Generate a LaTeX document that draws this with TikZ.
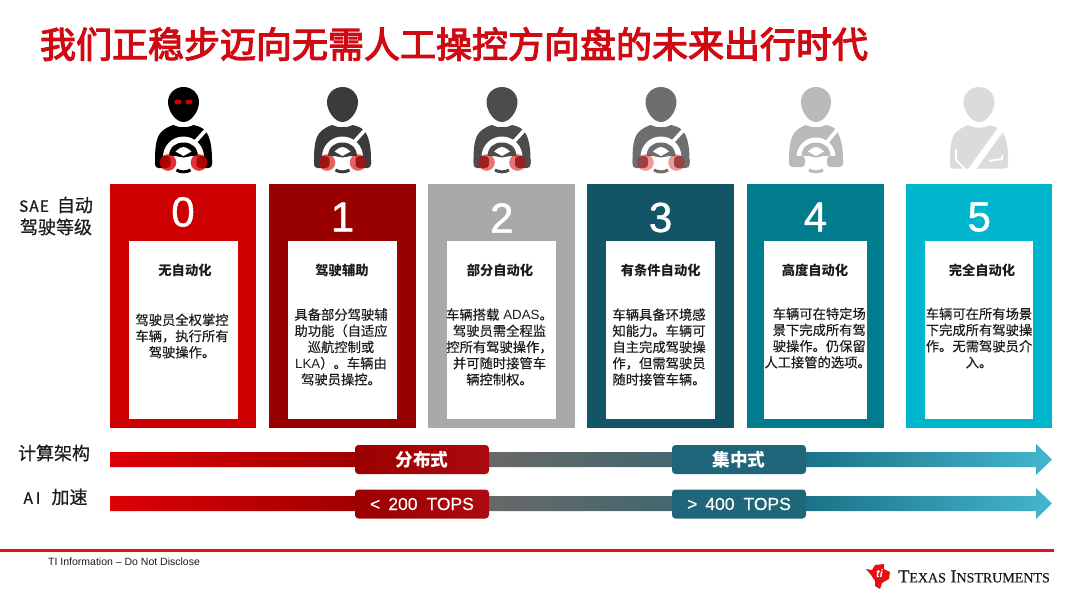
\documentclass[tikz,border=0pt]{standalone}
\usepackage{fontspec}
\setmainfont{Noto Sans CJK SC}
\newfontfamily\lat{Liberation Sans}
\newfontfamily\latmid[FakeBold=0.35]{Liberation Sans}
\newfontfamily\latheavy[FakeBold=1.1]{Liberation Sans}
\newfontfamily\latserif[FakeBold=0.5]{Liberation Serif}
\newfontfamily\cjkbody[FakeBold=0.25]{Noto Sans CJK SC}
\newfontfamily\cjkside[FakeBold=0.6]{Noto Sans CJK SC}
\newfontfamily\cjktitle[FakeBold=3.2]{Noto Sans CJK SC}
\definecolor{titlered}{HTML}{D00A12}
\definecolor{c0}{HTML}{CC0000}
\definecolor{c1}{HTML}{990000}
\definecolor{c2}{HTML}{A9A9A9}
\definecolor{c3}{HTML}{115566}
\definecolor{c4}{HTML}{007C8C}
\definecolor{c5}{HTML}{00B6CC}
\definecolor{ink}{HTML}{1C1C1C}
\definecolor{g0}{HTML}{DC0006}
\definecolor{g1}{HTML}{A00000}
\definecolor{g2}{HTML}{686868}
\definecolor{g3}{HTML}{43686F}
\definecolor{g4}{HTML}{1B7388}
\definecolor{g5}{HTML}{45B6CE}
\definecolor{pill1}{HTML}{9C0000}
\definecolor{pill2}{HTML}{AC0A10}
\definecolor{pill3}{HTML}{20667A}
\definecolor{footred}{HTML}{E60F14}
\pgfdeclarehorizontalshading{flowbar}{100bp}{
  color(0bp)=(g0);
  color(25bp)=(g0);
  color(38bp)=(g1);
  color(45.2bp)=(g2);
  color(54.8bp)=(g3);
  color(62bp)=(g4);
  color(75bp)=(g5);
  color(100bp)=(g5)}
\tikzset{
  x=1pt,y=-1pt,
  cardbox/.style={rectangle,inner sep=0pt,outer sep=0pt},
  cardpanel/.style={rectangle,fill=white,inner sep=0pt,outer sep=0pt,minimum height=178pt},
  digitlabel/.style={text=white,inner sep=0pt,font=\latheavy\fontsize{42}{44}\selectfont},
  cardtitle/.style={text=ink,inner sep=0pt,font=\bfseries\fontsize{13.3}{16}\selectfont},
  cardbody/.style={text=ink,inner sep=0pt,align=center,font=\cjkbody\fontsize{13.3}{16.2}\selectfont},
  sidelabel/.style={text=ink,inner sep=0pt,align=center,font=\cjkside\fontsize{18}{22}\selectfont},
  pillbox/.style={rectangle,rounded corners=3.5pt,inner sep=0pt,outer sep=0pt,minimum width=134pt,minimum height=29pt,text=white},
  redpill/.style={pillbox,left color=pill1,right color=pill2},
  tealpill/.style={pillbox,fill=pill3},
}
\newcommand{\leveltile}[8]{%
  % name, centre x, width, panel centre x, panel width, colour, digit, digit y
  \node[cardbox,fill=#6,minimum width=#3pt,minimum height=244pt] (card#1) at (#2,306) {};
  \node[cardpanel,minimum width=#5pt] (panel#1) at (#4,330) {};
  \node[digitlabel] (digit#1) at (#2,#8) {#7};
}
\newcommand{\drivericon}[4]{%
  % x, colour, hand opacity, eyes
  \begin{scope}[shift={(#1,0)}]
    \fill[#2] (0,87) .. controls (9,87) and (15.5,94) .. (15.5,102) .. controls (15.5,111) and (8,122) .. (0,122) .. controls (-8,122) and (-15.5,111) .. (-15.5,102) .. controls (-15.5,94) and (-9,87) .. (0,87) -- cycle;
    \fill[#2] (-28.5,160) .. controls (-28.5,145) and (-27,135) .. (-20,130) .. controls (-16,127) and (-12,125.5) .. (-10,125) .. controls (-5,128) and (5,128) .. (10,125) .. controls (14,126) and (18,127) .. (21,130) .. controls (27,136) and (28.5,148) .. (28.5,160) -- (28.5,163) -- (-28.5,163) -- cycle;
    \draw[white,line width=3.6pt] (27,125) -- (7,147);
    \fill[white] (0,157) circle[radius=20.5];
    \fill[#2] (-14.5,156) .. controls (-14,147) and (-8,142.5) .. (0,142.5) .. controls (8,142.5) and (14,147) .. (14.5,156) -- (8,156) -- (0,157.5) -- (-8,156) -- cycle;
    \fill[white] (-8,151.5) .. controls (-4,148) and (-2,147) .. (0,147) .. controls (2,147) and (4,148) .. (8,151.5) .. controls (5,153) and (2,155) .. (0,156) .. controls (-2,155) and (-5,153) .. (-8,151.5) -- cycle;
    \fill[#2,rounded corners=3.5pt] (-28.5,156) rectangle (-13,168);
    \fill[#2,rounded corners=3.5pt] (13,156) rectangle (28.5,168);
    \draw[#2,line width=3pt] (-7,170) .. controls (-3,172.5) and (3,172.5) .. (7,170);
    #4
    \fill[red!85!black,opacity=#3] (-15.5,162.5) circle[radius=8.3];
    \fill[red!85!black,opacity=#3] (15.5,162.5) circle[radius=8.3];
  \end{scope}
}
\begin{document}
\begin{tikzpicture}
\useasboundingbox (0,0) rectangle (1080,608);
\fill[white] (0,0) rectangle (1080,608);

\node[text=titlered,inner sep=0pt,font=\cjktitle\fontsize{36}{40}\selectfont] (title) at (454,44) {我们正稳步迈向无需人工操控方向盘的未来出行时代};

% driver icons
\drivericon{183.5}{black}{0.8}{\fill[red!80!black] (-5.5,102) ellipse[x radius=3.8,y radius=2.5]; \fill[red!80!black] (5.5,102) ellipse[x radius=3.8,y radius=2.5];}
\drivericon{342.5}{black!77}{0.62}{}
\drivericon{502}{black!70}{0.55}{}
\drivericon{661}{black!57}{0.4}{}
\begin{scope}[shift={(816,0)}]
  \fill[black!27] (0,87) .. controls (9,87) and (15,94) .. (15,102) .. controls (15,111) and (8,122) .. (0,122) .. controls (-8,122) and (-15,111) .. (-15,102) .. controls (-15,94) and (-9,87) .. (0,87) -- cycle;
  \fill[black!27] (-27,160) .. controls (-27,145) and (-25,135) .. (-19,130) .. controls (-15,127) and (-12,125.5) .. (-10,125) .. controls (-5,128) and (5,128) .. (10,125) .. controls (14,126) and (18,127) .. (20,130) .. controls (25,136) and (27,148) .. (27,160) -- (27,163) -- (-27,163) -- cycle;
  \draw[white,line width=3.6pt] (25,125) -- (7,147);
  \fill[white] (0,157) circle[radius=19.5];
  \fill[black!27] (-14.5,156) .. controls (-14,147) and (-8,142.5) .. (0,142.5) .. controls (8,142.5) and (14,147) .. (14.5,156) -- (8,156) -- (0,157.5) -- (-8,156) -- cycle;
  \fill[white] (-8,151.5) .. controls (-4,148) and (-2,147) .. (0,147) .. controls (2,147) and (4,148) .. (8,151.5) .. controls (5,153) and (2,155) .. (0,156) .. controls (-2,155) and (-5,153) .. (-8,151.5) -- cycle;
  \fill[black!27,rounded corners=3.5pt] (-27,156) rectangle (-11,167);
  \fill[black!27,rounded corners=3.5pt] (11,156) rectangle (27,167);
  \draw[black!27,line width=3pt] (-7,170) .. controls (-3,172.5) and (3,172.5) .. (7,170);
\end{scope}
\begin{scope}[shift={(979,0)}]
  \fill[black!14] (0,87) .. controls (9,87) and (15.5,94) .. (15.5,102) .. controls (15.5,111) and (8,122) .. (0,122) .. controls (-8,122) and (-15.5,111) .. (-15.5,102) .. controls (-15.5,94) and (-9,87) .. (0,87) -- cycle;
  \fill[black!14,rounded corners=3pt] (-29,160) .. controls (-29,145) and (-27,135) .. (-20,130) .. controls (-16,127) and (-12,125.5) .. (-10,125) .. controls (-5,128) and (5,128) .. (10,125) .. controls (14,126) and (18,127) .. (21,130) .. controls (27,136) and (29,148) .. (29,160) -- (29,168.5) -- (-29,168.5) -- cycle;
  \draw[white,line width=6.5pt] (27,122) -- (-9,172);
  \draw[white,line width=2pt] (-23,149) -- (-23,160) -- (-12,171);
  \draw[white,line width=2pt] (23,155) -- (23,159) -- (10,161);
\end{scope}

% level cards
\leveltile{0}{183}{146.5}{183.5}{109}{c0}{0}{212}
\leveltile{1}{342.5}{146.5}{342.5}{109}{c1}{1}{217}
\leveltile{2}{501.7}{146.5}{501.7}{109}{c2}{2}{218}
\leveltile{3}{660.6}{146.5}{660.6}{109}{c3}{3}{217.5}
\leveltile{4}{815.5}{137.6}{815.5}{102.4}{c4}{4}{217}
\leveltile{5}{979.2}{146.3}{979.2}{108.3}{c5}{5}{217}

\node[cardtitle] (t0) at (185,270.7) {无自动化};
\node[cardtitle] (t1) at (342,270.7) {驾驶辅助};
\node[cardtitle] (t2) at (500,270.7) {部分自动化};
\node[cardtitle] (t3) at (660.7,270.7) {有条件自动化};
\node[cardtitle] (t4) at (815,270.7) {高度自动化};
\node[cardtitle] (t5) at (982,270.7) {完全自动化};

\node[cardbody] (b0) at (182,336) {驾驶员全权掌控\\车辆，执行所有\\驾驶操作。};
\node[cardbody] (b1) at (341,347) {具备部分驾驶辅\\助功能（自适应\\巡航控制或\\{\lat LKA}）。车辆由\\驾驶员操控。};
\node[cardbody] (b2) at (499.5,347) {车辆搭载\hspace{4pt}{\lat ADAS}。\\驾驶员需全程监\\控所有驾驶操作，\\并可随时接管车\\辆控制权。};
\node[cardbody] (b3) at (659,347) {车辆具备环境感\\知能力。车辆可\\自主完成驾驶操\\作，但需驾驶员\\随时接管车辆。};
\node[cardbody,align=right,anchor=east] (b4) at (866,338) {车辆可在特定场\\景下完成所有驾\\驶操作。仍保留\\人工接管的选项。\kern-5pt};
\node[cardbody] (b5) at (979,338) {车辆可在所有场景\\下完成所有驾驶操\\作。无需驾驶员介\\入。};

% side labels
\node[sidelabel] (sae) at (56,216) {{\fontsize{15.5}{22}\selectfont S\hspace{1pt}A\hspace{1pt}E}\hspace{8pt}自动\\驾驶等级};
\node[sidelabel] (arch) at (54,453) {计算架构};
\node[sidelabel] (ai) at (55.5,497) {{\fontsize{15.5}{22}\selectfont A\hspace{3pt}I}\hspace{11pt}加速};

% flow bars
\shade[shading=flowbar] (110,452) -- (1036,452) -- (1036,444) -- (1052,459.5) -- (1036,475) -- (1036,467) -- (110,467) -- cycle;
\shade[shading=flowbar] (110,496) -- (1036,496) -- (1036,488) -- (1052,503.5) -- (1036,519) -- (1036,511) -- (110,511) -- cycle;

\node[redpill,font=\bfseries\fontsize{17.7}{20}\selectfont] (dist) at (422,459.5) {分布式};
\node[tealpill,font=\bfseries\fontsize{17.7}{20}\selectfont] (cent) at (739,459.5) {集中式};
\node[redpill,font=\latmid\fontsize{17.5}{20}\selectfont] (low) at (422,504) {<\hspace{8pt}200\hspace{9pt}TOPS};
\node[tealpill,font=\latmid\fontsize{17.5}{20}\selectfont] (high) at (739,504) {>\hspace{8pt}400\hspace{9pt}TOPS};

% footer
\fill[footred] (0,548.6) rectangle (1054,551.6);
\node[anchor=west,inner sep=0pt,text=ink,font=\lat\fontsize{10.5}{12}\selectfont] (note) at (48,561.5) {TI Information – Do Not Disclose};

% logo
\fill[footred] (866,569) -- (872,570) -- (875,565) -- (884,564) -- (884,569) -- (890,572) -- (889,579) -- (882,583) -- (880,589) -- (875,586) -- (875,581) -- (871,575) -- cycle;
\node[inner sep=0pt,text=white,font=\lat\itshape\bfseries\fontsize{11}{12}\selectfont] (tilogo) at (879.5,574) {ti};
\node[anchor=west,inner sep=0pt,text=ink,font=\latserif\fontsize{18.2}{20}\selectfont] (brand) at (898,576.5) {T{\fontsize{14}{16}\selectfont EXAS} I{\fontsize{14}{16}\selectfont NSTRUMENTS}};
\end{tikzpicture}
\end{document}
